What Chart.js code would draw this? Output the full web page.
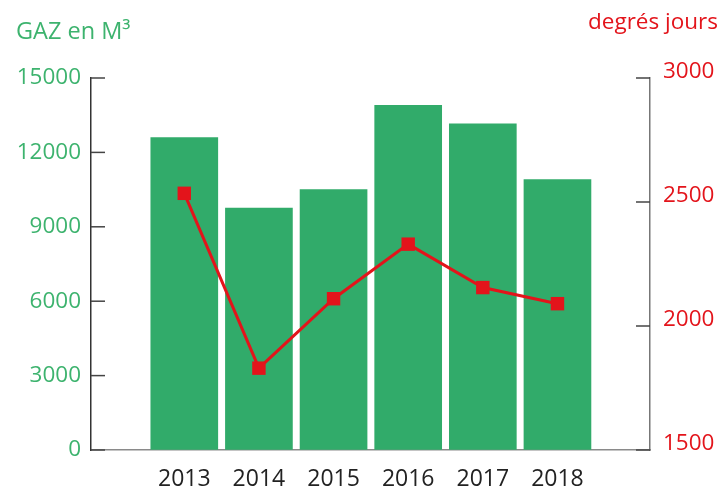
<!DOCTYPE html>
<html>
<head>
<meta charset="utf-8">
<script src="https://cdn.jsdelivr.net/npm/chart.js@4.4.1/dist/chart.umd.min.js"></script>
<style>
  body { margin: 0; background: #fff; }
  canvas { display: block; }
</style>
</head>
<body>
<canvas id="chart" width="725" height="491"></canvas>
<script>
const categories = ['2013', '2014', '2015', '2016', '2017', '2018'];
const gasM3 = [12600, 9750, 10500, 13900, 13150, 10900];
const degreeDays = [2535, 1830, 2110, 2330, 2155, 2090];
const gasTicks = [0, 3000, 6000, 9000, 12000, 15000];
const degreeTicks = [1500, 2000, 2500, 3000];

const green = '#31ab6a';
const greenText = '#3db36e';
const red = '#e3141b';
const font = 'Open Sans';

// titles above the two axes
const titles = {
    id: 'titles',
    afterDraw(chart) {
        const ctx = chart.ctx;
        ctx.save();
        ctx.textBaseline = 'alphabetic';
        ctx.font = `23.5px "${font}"`;
        ctx.fillStyle = greenText;
        ctx.textAlign = 'left';
        ctx.fillText('GAZ en M³', 16, 39);
        ctx.font = `22.5px "${font}"`;
        ctx.fillStyle = red;
        ctx.textAlign = 'right';
        ctx.fillText('degrés jours', 718, 29);
        ctx.restore();
    }
};

// short tick marks pointing into the plot area
const innerTicks = {
    id: 'innerTicks',
    afterDraw(chart) {
        const ctx = chart.ctx;
        ctx.save();
        ctx.strokeStyle = '#444';
        ctx.lineWidth = 1.5;
        ['y', 'y1'].forEach(id => {
            const scale = chart.scales[id];
            const x = id === 'y' ? chart.chartArea.left : chart.chartArea.right;
            const dir = id === 'y' ? 1 : -1;
            scale.ticks.forEach(t => {
                const y = scale.getPixelForValue(t.value);
                ctx.beginPath();
                ctx.moveTo(x, y);
                ctx.lineTo(x + dir * 14, y);
                ctx.stroke();
            });
        });
        ctx.restore();
    }
};

const ctx = document.getElementById('chart').getContext('2d');
new Chart(ctx, {
    data: {
        datasets: [{
            type: 'line',
            label: 'degrés jours',
            data: categories.map((c, i) => ({ x: i, y: degreeDays[i] })),
            yAxisID: 'y1',
            borderColor: red,
            borderWidth: 3,
            pointStyle: 'rect',
            pointRadius: 9.5,
            pointBackgroundColor: red,
            pointBorderWidth: 0,
            order: 0,
        }, {
            type: 'bar',
            label: 'GAZ en M³',
            data: categories.map((c, i) => ({ x: i, y: gasM3[i] })),
            yAxisID: 'y',
            backgroundColor: green,
            barThickness: 67,
            order: 1,
        }],
    },
    options: {
        responsive: false,
        animation: false,
        layout: { padding: { top: 78, left: 0, right: 0, bottom: 0 } },
        plugins: {
            legend: { display: false },
            tooltip: { enabled: false },
        },
        scales: {
            x: {
                type: 'linear',
                offset: false,
                min: -1.25,
                max: 6.24,
                afterBuildTicks: axis => {
                    axis.ticks = categories.map((c, i) => ({ value: i }));
                },
                afterFit: axis => { axis.height = 41; },
                grid: { display: false, drawTicks: false, tickLength: 0, offset: false },
                border: { display: true, color: '#8a8a8a', width: 1.5 },
                ticks: {
                    callback: v => categories[v],
                    color: '#222',
                    font: { family: font, size: 23 },
                    padding: 16,
                    maxRotation: 0,
                },
            },
            y: {
                position: 'left',
                min: 0,
                max: 15000,
                afterBuildTicks: axis => {
                    axis.ticks = gasTicks.map(v => ({ value: v }));
                },
                afterFit: axis => { axis.width = 91; },
                grid: { drawOnChartArea: false, drawTicks: false },
                border: { display: true, color: '#333', width: 1.5 },
                ticks: {
                    callback: v => String(v),
                    color: greenText,
                    font: { family: font, size: 22.5 },
                    padding: 10,
                },
            },
            y1: {
                position: 'right',
                min: 1500,
                max: 3000,
                afterBuildTicks: axis => {
                    axis.ticks = degreeTicks.map(v => ({ value: v }));
                },
                afterFit: axis => { axis.width = 75; },
                grid: { drawOnChartArea: false, drawTicks: false },
                border: { display: true, color: '#777', width: 1.5 },
                ticks: {
                    callback: v => String(v),
                    color: red,
                    font: { family: font, size: 22.5 },
                    padding: 13,
                    labelOffset: -6,
                },
            },
        },
    },
    plugins: [titles, innerTicks],
});
</script>
</body>
</html>
